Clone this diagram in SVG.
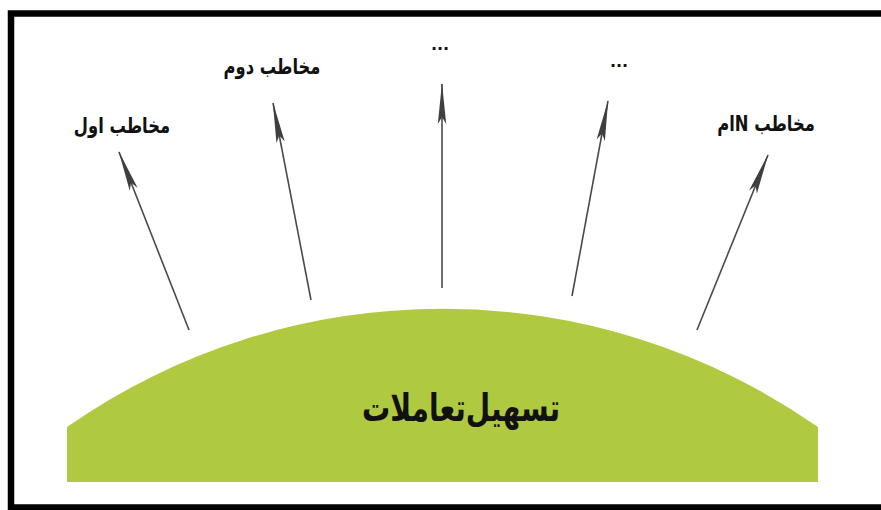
<svg xmlns="http://www.w3.org/2000/svg" width="881" height="510" viewBox="0 0 881 510">
  <style>
    .lbl { font-family: "DejaVu Sans", "Noto Sans", sans-serif; font-weight: bold; fill: #111; text-anchor: middle; }
    .arr { stroke: #4a4a4a; stroke-width: 1.6; fill: none; marker-end: url(#head); }
  </style>
  <defs>
    <marker id="head" markerUnits="userSpaceOnUse" viewBox="-42 -6 44 12" markerWidth="44" markerHeight="12" refX="0" refY="0" orient="auto">
      <path d="M1,0 L-40,-4.2 L-33,0 L-40,4.2 Z" fill="#3f3f3f"/>
    </marker>
  </defs>
  <rect x="0" y="0" width="881" height="510" fill="#ffffff"/>
  <rect id="frame" x="11" y="13.5" width="900" height="494" fill="none" stroke="#000" stroke-width="6.5"/>

  <g id="base">
    <path d="M67,482 L67,427 A655,655 0 0 1 818,427 L818,482 Z" fill="#afc940"/>
    <text class="lbl" transform="translate(461,421) scale(0.74,1)" font-size="38" direction="rtl">تسهیل‌تعاملات</text>
  </g>

  <g id="connectors">
    <line class="arr" x1="189" y1="330" x2="119" y2="152"/>
    <line class="arr" x1="311" y1="300" x2="273" y2="103"/>
    <line class="arr" x1="442" y1="288" x2="442" y2="84"/>
    <line class="arr" x1="572" y1="296" x2="608" y2="101"/>
    <line class="arr" x1="697" y1="330" x2="768" y2="155"/>
  </g>

  <g id="node1"><text class="lbl" transform="translate(122,133) scale(0.76,1)" font-size="21.5" direction="rtl">مخاطب اول</text></g>
  <g id="node2"><text class="lbl" transform="translate(272,74) scale(0.76,1)" font-size="21.5" direction="rtl">مخاطب دوم</text></g>
  <g id="node3"><text class="lbl" x="440" y="50" font-size="16">...</text></g>
  <g id="node4"><text class="lbl" x="619" y="67" font-size="16">...</text></g>
  <g id="node5"><text class="lbl" transform="translate(766,131) scale(0.76,1)" font-size="21.5" direction="rtl">مخاطب Nام</text></g>
</svg>
